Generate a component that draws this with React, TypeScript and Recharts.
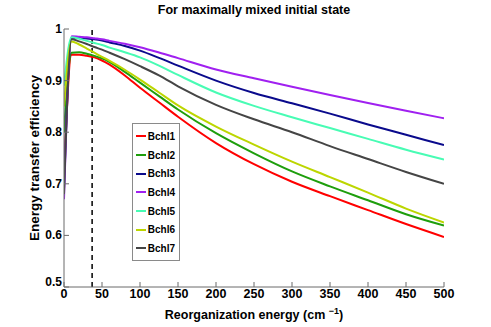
import React from "react";
import {
  LineChart,
  Line,
  XAxis,
  YAxis,
  Legend,
  ReferenceLine,
} from "recharts";

const energies = [0, 10, 20, 30, 40, 50, 60, 80, 100, 125, 150, 200, 250, 300, 350, 400, 450, 500];

const bchl1 = [0.72, 0.950, 0.950, 0.948, 0.945, 0.939, 0.931, 0.910, 0.886, 0.858, 0.830, 0.779, 0.738, 0.704, 0.676, 0.649, 0.622, 0.597];
const bchl2 = [0.80, 0.954, 0.955, 0.952, 0.948, 0.943, 0.936, 0.917, 0.896, 0.870, 0.844, 0.798, 0.759, 0.724, 0.695, 0.668, 0.641, 0.619];
const bchl3 = [0.69, 0.983, 0.9825, 0.9815, 0.980, 0.9775, 0.974, 0.967, 0.958, 0.944, 0.929, 0.900, 0.876, 0.856, 0.836, 0.815, 0.795, 0.775];
const bchl4 = [0.67, 0.986, 0.985, 0.984, 0.982, 0.980, 0.977, 0.9715, 0.9647, 0.9545, 0.9435, 0.9215, 0.9045, 0.888, 0.872, 0.8565, 0.8415, 0.827];
const bchl5 = [0.89, 0.984, 0.981, 0.977, 0.973, 0.969, 0.964, 0.955, 0.945, 0.929, 0.911, 0.877, 0.851, 0.829, 0.808, 0.787, 0.766, 0.747];
const bchl6 = [0.85, 0.976, 0.970, 0.962, 0.954, 0.946, 0.938, 0.921, 0.902, 0.877, 0.852, 0.811, 0.776, 0.743, 0.713, 0.683, 0.652, 0.625];
const bchl7 = [0.68, 0.980, 0.976, 0.971, 0.965, 0.960, 0.954, 0.9415, 0.928, 0.910, 0.889, 0.853, 0.825, 0.800, 0.773, 0.748, 0.723, 0.700];

const xTicks = [0, 50, 100, 150, 200, 250, 300, 350, 400, 450, 500];
const yTicks = [0.5, 0.6, 0.7, 0.8, 0.9, 1];
const markerEnergy = 37;

const seriesNames = ["Bchl1", "Bchl2", "Bchl3", "Bchl4", "Bchl5", "Bchl6", "Bchl7"];
const seriesValues = [bchl1, bchl2, bchl3, bchl4, bchl5, bchl6, bchl7];
const seriesColors = ["#ff0000", "#1e9e0c", "#0a0a8c", "#a020f0", "#48fcb4", "#bcd600", "#454545"];

const data = energies.map((e, i) => {
  const row: Record<string, number> = { energy: e };
  seriesNames.forEach((name, s) => {
    row[name] = seriesValues[s][i];
  });
  return row;
});

const narrow = "'Liberation Sans Narrow', 'Arial Narrow', 'Liberation Sans', Arial, sans-serif";
const axisColor = "#6b6b6b";

// y tick labels; the bottom one sits a bit higher so it clears the "0" of the x axis
function YTick({ x, y, payload }: any) {
  const v = payload.value as number;
  const label = v === 1 ? "1" : v.toFixed(1);
  return (
    <text
      x={x}
      y={v === 0.5 ? y - 5 : y}
      dy={4}
      textAnchor="end"
      fill="#000"
      fontFamily={narrow}
      fontWeight={700}
      fontSize={12}
    >
      {label}
    </text>
  );
}

function LegendBox({ payload }: { payload?: Array<{ value: string; color: string }> }) {
  if (!payload) return null;
  return (
    <div
      style={{
        background: "#fff",
        border: "1px solid #8a8a8a",
        padding: "3px 4px 2px 3px",
        width: 39,
      }}
    >
      {payload.map((p) => (
        <div key={p.value} style={{ display: "flex", alignItems: "center", height: 18.7 }}>
          <span style={{ display: "inline-block", width: 16, height: 2, background: p.color, marginRight: 2 }} />
          <span style={{ fontFamily: narrow, fontWeight: 700, fontSize: 10, color: "#000" }}>{p.value}</span>
        </div>
      ))}
    </div>
  );
}

export default function App() {
  return (
    <div style={{ position: "absolute", left: 0, top: 0, width: 491, height: 327, background: "#fff" }}>
      <div
        style={{
          position: "absolute",
          left: 64,
          width: 380,
          top: 3,
          textAlign: "center",
          fontFamily: narrow,
          fontWeight: 700,
          fontSize: 12.5,
          color: "#000",
        }}
      >
        For maximally mixed initial state
      </div>
      <div
        style={{
          position: "absolute",
          left: 35 - 110,
          top: 158 - 8,
          width: 220,
          height: 16,
          lineHeight: "16px",
          textAlign: "center",
          transform: "rotate(-90deg)",
          whiteSpace: "nowrap",
          fontFamily: "'Liberation Sans', Arial, sans-serif",
          fontWeight: 700,
          fontSize: 13.5,
          color: "#000",
        }}
      >
        Energy transfer efficiency
      </div>
      <div
        style={{
          position: "absolute",
          left: 64,
          width: 380,
          top: 306,
          textAlign: "center",
          fontFamily: narrow,
          fontWeight: 700,
          fontSize: 12.5,
          color: "#000",
        }}
      >
        Reorganization energy (cm <sup style={{ fontSize: 9 }}>−1</sup>)
      </div>
      <LineChart
        width={491}
        height={327}
        data={data}
        margin={{ top: 29, right: 47, bottom: 0, left: 0 }}
      >
        <XAxis
          dataKey="energy"
          type="number"
          domain={[0, 500]}
          ticks={xTicks}
          allowDataOverflow
          height={40}
          stroke={axisColor}
          tickSize={-5}
          tickMargin={7}
          tick={{ fill: "#000", fontFamily: narrow, fontWeight: 700, fontSize: 12.5 }}
        />
        <XAxis
          xAxisId="top"
          orientation="top"
          type="number"
          domain={[0, 500]}
          ticks={xTicks}
          allowDataOverflow
          height={0}
          stroke={axisColor}
          tickSize={-5}
          tickFormatter={() => ""}
        />
        <YAxis
          type="number"
          domain={[0.5, 1]}
          ticks={yTicks}
          allowDataOverflow
          width={64}
          stroke={axisColor}
          tickSize={-5}
          tickMargin={7}
          tick={<YTick />}
        />
        <YAxis
          yAxisId="right"
          orientation="right"
          type="number"
          domain={[0.5, 1]}
          ticks={yTicks}
          allowDataOverflow
          width={0}
          stroke={axisColor}
          tickSize={-5}
          tickFormatter={() => ""}
        />
        <ReferenceLine x={markerEnergy} stroke="#000" strokeWidth={1.5} strokeDasharray="5 4" />
        {seriesNames.map((name, s) => (
          <Line
            key={name}
            type="monotone"
            dataKey={name}
            stroke={seriesColors[s]}
            strokeWidth={2}
            dot={false}
            isAnimationActive={false}
          />
        ))}
        <Legend
          layout="vertical"
          align="center"
          verticalAlign="middle"
          wrapperStyle={{ left: 132, top: 123, width: "auto" }}
          content={(props: any) => <LegendBox payload={props.payload} />}
        />
      </LineChart>
    </div>
  );
}
